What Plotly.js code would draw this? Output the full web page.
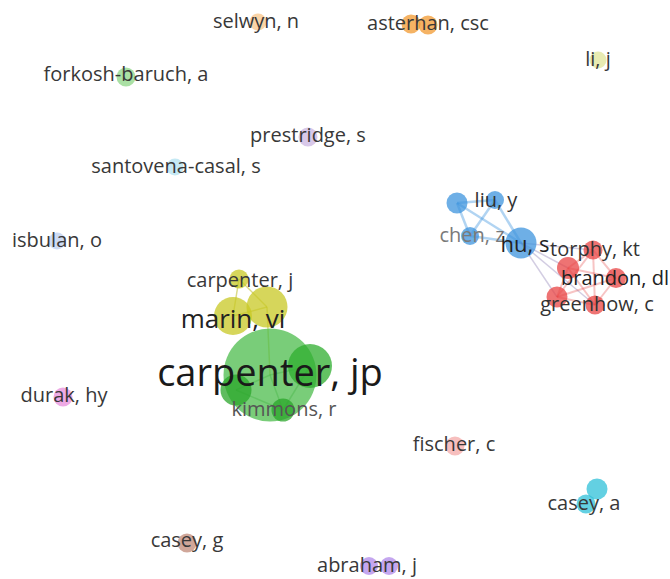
<!DOCTYPE html>
<html>
<head>
<meta charset="utf-8">
<script src="https://cdn.plot.ly/plotly-3.0.1.min.js"></script>
<style>html,body{margin:0;padding:0;background:#fff;}#chart{width:670px;height:579px;}</style>
</head>
<body>
<div id="chart"></div>
<script>
// Node positions (map coordinates), sizes and cluster colours
const nodeX = [258,411,428,598,126,308,175,57,63,455,597,586,187,369,389,457,495,470,521,593,568,616,557,595,239,233,267,270,310,236,283];
const nodeY = [22,24,25,60,77,137,167,241,397,446,489,504,543,566,566,203,200,236,243,250,268,278,297,305,279,316,307,375,366,390,410];
const nodeSize = [17,19,19,17,19,19,17,17,19,19,21,19,19,18,18,21,18,18,31,19,22,20,21,19,19,38,41,93,44,31,23];
const nodeColor = ["#f8c68a","#f29a30","#f29a30","#e0e498","#8ed686","#cbb6e2","#b2e2f0","#bccff0","#e88ddc","#f4aaa8","#2fc0d8","#2fc0d8","#c08a78","#b088ea","#b088ea",
  "#3d94de","#3d94de","#3d94de","#3d94de","#e84444","#e84444","#e84444","#e84444","#e84444","#c8c824","#c8c824","#c8c824","#4cbc4c","#2fae2f","#2aa52a","#2aa52a"];

// Links (pairs of node indices) by group
const linkBlue = [[15,16],[15,17],[15,18],[16,17],[16,18],[17,18]];
const linkMixed = [[18,19],[18,20],[18,22],[18,23]];
const linkRed = [[19,20],[19,21],[19,23],[20,21],[20,22],[20,23],[21,22],[21,23],[22,23],[19,22]];
const linkYellow = [[24,26],[24,25],[25,26],[26,27]];
const linkGreen = [[27,28],[27,29],[27,30],[28,30],[29,30]];

// Labels
const labelText = ["selwyn, n","asterhan, csc","li, j","forkosh-baruch, a","prestridge, s","santovena-casal, s","isbulan, o","durak, hy","fischer, c","casey, a","casey, g","abraham, j",
  "liu, y","chen, z","hu, s","torphy, kt","brandon, dl","greenhow, c","carpenter, j","marin, vi","carpenter, jp","kimmons, r"];
const labelX = [256,428,598,126,308,176,57,64,454,584,187,367,496,472,525,595,615,597,240,233,270,284];
const labelY = [23,25,61,76,137,168,242,397,446,505,542,567,202,237,246,251,280,306,282,321,376,411];
const labelSize = [20,20,20,20,20,20,20,20,20,20,20,20,20,20,22,20,20,20,20,26,38,20];
const labelColor = ["#383838","#383838","#383838","#383838","#383838","#383838","#383838","#383838","#383838","#383838","#383838","#383838","#333","#7a7a7a","#222","#333","#222","#333","#383838","#222","#1a1a1a","#555"];

function linkTrace(pairs, color, width) {
  const x = [], y = [];
  pairs.forEach(p => { x.push(nodeX[p[0]], nodeX[p[1]], null); y.push(nodeY[p[0]], nodeY[p[1]], null); });
  return {x, y, mode: 'lines', type: 'scatter', hoverinfo: 'skip', line: {color, width}, showlegend: false};
}

const traces = [
  linkTrace(linkBlue, 'rgba(61,148,222,0.4)', 2.5),
  linkTrace(linkMixed, 'rgba(110,90,160,0.3)', 1.5),
  linkTrace(linkRed, 'rgba(230,60,60,0.3)', 2),
  linkTrace(linkYellow, 'rgba(190,190,40,0.55)', 1.5),
  linkTrace(linkGreen, 'rgba(40,150,40,0.4)', 1.5),
  {x: nodeX, y: nodeY, mode: 'markers', type: 'scatter', hoverinfo: 'skip', showlegend: false,
   marker: {size: nodeSize, color: nodeColor, opacity: 0.75, line: {width: 0}}},
  {x: labelX, y: labelY, text: labelText, mode: 'text', type: 'scatter', hoverinfo: 'skip', showlegend: false,
   textposition: 'middle center', textfont: {family: 'Open Sans, sans-serif', size: labelSize, color: labelColor}}
];

const layout = {
  width: 670, height: 579,
  margin: {l: 0, r: 0, t: 0, b: 0},
  paper_bgcolor: '#fff', plot_bgcolor: '#fff',
  xaxis: {range: [0, 670], visible: false, fixedrange: true},
  yaxis: {range: [579, 0], visible: false, fixedrange: true},
  showlegend: false
};

Plotly.newPlot('chart', traces, layout, {staticPlot: true, displayModeBar: false});
</script>
</body>
</html>
